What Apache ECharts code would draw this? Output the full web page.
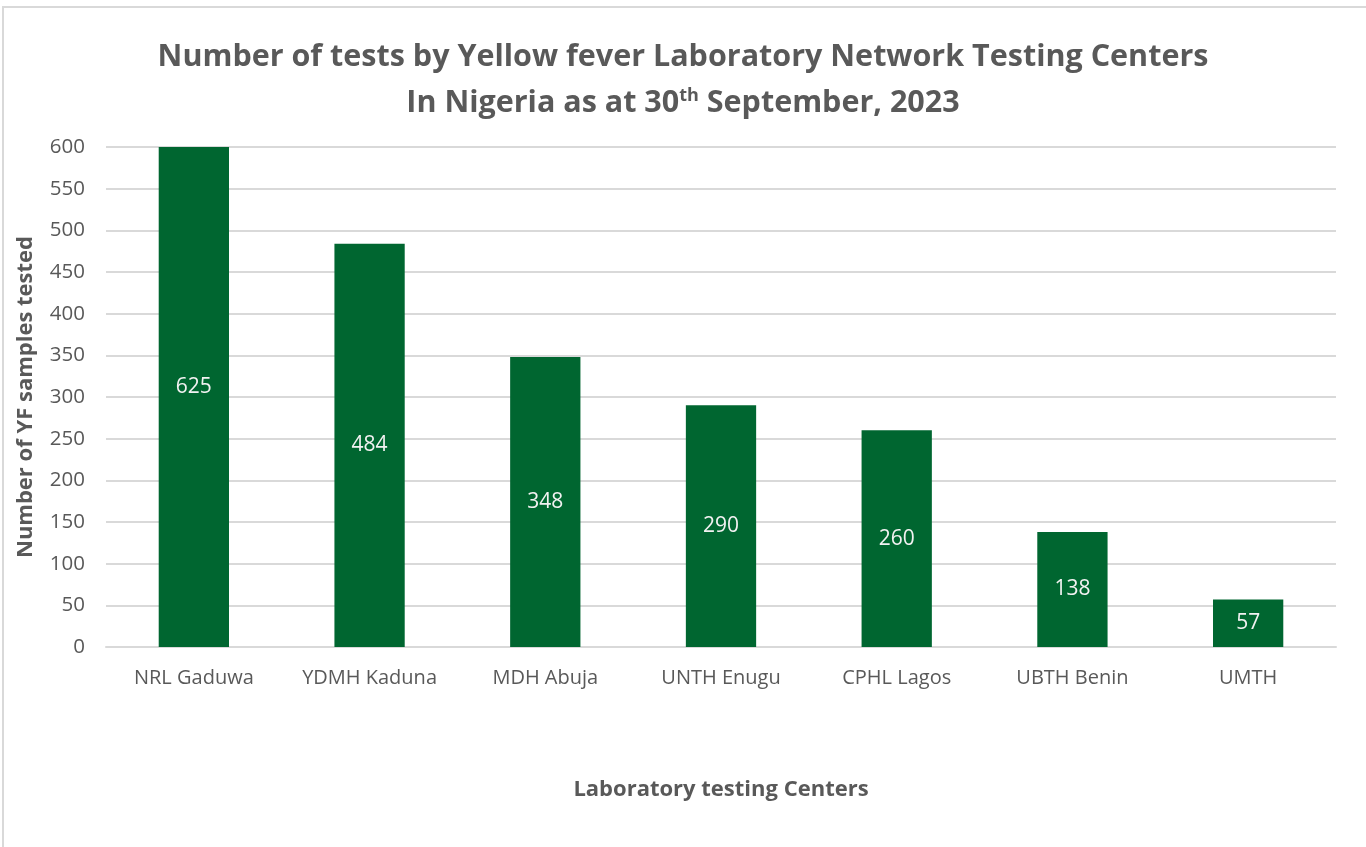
<!DOCTYPE html>
<html><head><meta charset="utf-8">
<script src="https://cdn.jsdelivr.net/npm/echarts@6/dist/echarts.min.js"></script>
<style>html,body{margin:0;padding:0;background:#fff;}#c{width:1366px;height:847px;}
#b{position:absolute;left:2px;top:6px;width:1400px;height:900px;border:2px solid #d9d9d9;box-sizing:border-box;pointer-events:none;}</style>
</head><body><div id="c"></div><div id="b"></div>
<script>
const categories = ['NRL Gaduwa','YDMH Kaduna','MDH Abuja','UNTH Enugu','CPHL Lagos','UBTH Benin','UMTH'];
const values = [625, 484, 348, 290, 260, 138, 57];
const yTicks = {min: 0, max: 600, interval: 50};
const titleLine1 = 'Number of tests by Yellow fever Laboratory Network Testing Centers';
const titleLine2a = 'In Nigeria as at 30', titleSup = 'th', titleLine2b = ' September, 2023';
const yName = 'Number of YF samples tested';
const xName = 'Laboratory testing Centers';

const font = 'Open Sans';
const chart = echarts.init(document.getElementById('c'));
chart.setOption({
  animation: false,
  title: {
    text: '{t|' + titleLine1 + '}\n{t|' + titleLine2a + '}{s|' + titleSup + '}{t|' + titleLine2b + '}',
    left: 'center', top: 29,
    textStyle: {
      rich: {
        t: {fontFamily: font, fontWeight: 'bold', fontSize: 30.5, color: '#595959', lineHeight: 46},
        s: {fontFamily: font, fontWeight: 'bold', fontSize: 18, color: '#595959', verticalAlign: 'middle', lineHeight: 20, padding: [0, 0, 14, 0]}
      }
    }
  },
  grid: {left: 106, right: 30, top: 147, bottom: 200},
  xAxis: {
    type: 'category', data: categories,
    axisLine: {lineStyle: {color: '#d9d9d9', width: 2}},
    axisTick: {show: false},
    axisLabel: {color: '#595959', fontFamily: font, fontSize: 20, margin: 21, interval: 0},
    name: xName, nameLocation: 'middle', nameGap: 132,
    nameTextStyle: {color: '#595959', fontFamily: font, fontWeight: 'bold', fontSize: 22}
  },
  yAxis: {
    type: 'value', min: yTicks.min, max: yTicks.max, interval: yTicks.interval,
    axisLine: {show: false}, axisTick: {show: false},
    splitLine: {lineStyle: {color: '#d9d9d9', width: 2}},
    axisLabel: {color: '#595959', fontFamily: font, fontSize: 20.5, margin: 21},
    name: yName, nameLocation: 'middle', nameGap: 69,
    nameTextStyle: {color: '#595959', fontFamily: font, fontWeight: 'bold', fontSize: 22}
  },
  series: [{
    type: 'bar', barWidth: '40%',
    data: values.map((v, i) => i === 0 ? {value: v, label: {offset: [0, -10]}} : v),
    itemStyle: {color: '#006630'},
    label: {show: true, position: 'inside', color: '#f2f2f2', fontFamily: font, fontSize: 21}
  }]
});
</script></body></html>
